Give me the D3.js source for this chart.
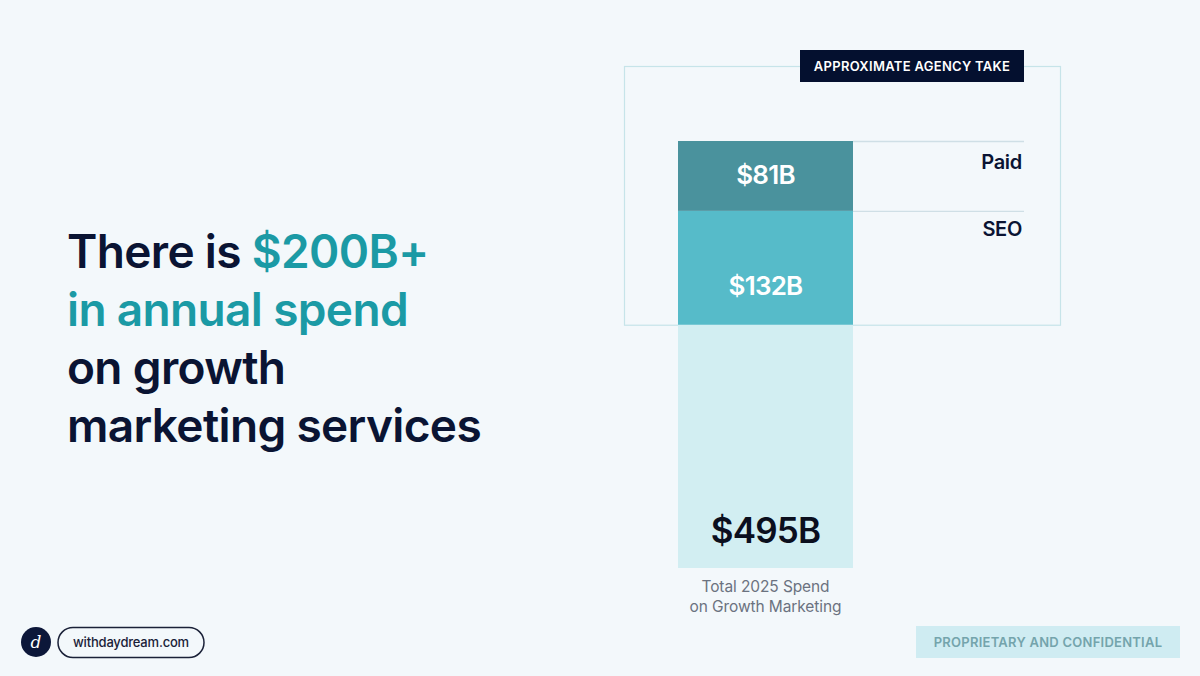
<!DOCTYPE html>
<html>
<head>
<meta charset="utf-8">
<script src="https://cdn.jsdelivr.net/npm/d3@7"></script>
<style>
  html, body { margin: 0; padding: 0; background: #f3f8fb; }
  svg { display: block; font-family: Inter, "Noto Sans", sans-serif; }
</style>
</head>
<body>
<svg id="chart" width="1200" height="676"></svg>
<script>
// ---- Data ----
const segments = ["Other", "SEO", "Paid"];          // stacked bottom -> top
const segmentValues = [282, 132, 81];               // $B
const segmentLabels = ["$495B", "$132B", "$81B"];
const sideLabels = ["Paid", "SEO"];
const totalValue = 495;
const headlineLines = [
  [{t: "There is ", hi: false}, {t: "$200B+", hi: true}],
  [{t: "in annual spend", hi: true}],
  [{t: "on growth", hi: false}],
  [{t: "marketing services", hi: false}]
];
const boxTitle = "APPROXIMATE AGENCY TAKE";
const captionLines = ["Total 2025 Spend", "on Growth Marketing"];

// ---- Setup ----
const svg = d3.select("#chart");
const navy = "#0a1433", teal = "#1b9aa5";
const colors = {Other: "#d2eef2", SEO: "#56bbc9", Paid: "#4a929d"};

svg.append("rect").attr("width", 1200).attr("height", 676).attr("fill", "#f3f8fb");

// Headline
const hl = svg.append("text").attr("font-size", 46).attr("font-weight", 600)
  .attr("letter-spacing", -0.65);
headlineLines.forEach((line, i) => {
  line.forEach((p, j) => {
    const ts = hl.append("tspan").text(p.t).attr("fill", p.hi ? teal : navy);
    if (j === 0) ts.attr("x", 67).attr("y", 268 + i * 58);
  });
});

// Scales
const y = d3.scaleLinear().domain([0, totalValue]).range([568, 141]);
const x = d3.scaleBand().domain(["Total"]).range([678, 853]).padding(0);

// Stack
const stackInput = [Object.fromEntries(segments.map((s, i) => [s, segmentValues[i]]))];
const series = d3.stack().keys(segments)(stackInput);

// Agency box outline
const seoTop = y(segmentValues[0]);
svg.append("rect").attr("x", 624.5).attr("y", 66.5).attr("width", 436).attr("height", seoTop - 66)
  .attr("fill", "none").attr("stroke", "#c6e4e9").attr("stroke-width", 1.2);

// Bars
svg.append("g").selectAll("rect").data(series).join("rect")
  .attr("x", x("Total")).attr("width", x.bandwidth())
  .attr("y", d => y(d[0][1])).attr("height", d => y(d[0][0]) - y(d[0][1]))
  .attr("fill", d => colors[d.key]);

// Divider lines to the right of the bar (at top of Paid and top of SEO)
const lineYs = [y(series[2][0][1]), y(series[1][0][1])];
svg.append("g").selectAll("line").data(lineYs).join("line")
  .attr("x1", 853).attr("x2", 1024).attr("y1", d => d + 0.5).attr("y2", d => d + 0.5)
  .attr("stroke", "#cfdfe6").attr("stroke-width", 1.3);

// Side labels
svg.append("g").selectAll("text").data(sideLabels).join("text")
  .attr("x", 1022).attr("y", (d, i) => lineYs[i] + (i === 0 ? 28 : 25)).attr("text-anchor", "end")
  .attr("font-size", 20).attr("font-weight", 600).attr("fill", navy).attr("letter-spacing", -0.3)
  .text(d => d);

// Segment value labels
const cx = x("Total") + x.bandwidth() / 2;
// Paid
svg.append("text").attr("x", cx).attr("y", (y(series[2][0][0]) + y(series[2][0][1])) / 2 + 8)
  .attr("text-anchor", "middle").attr("font-size", 26).attr("font-weight", 600).attr("fill", "#ffffff")
  .attr("letter-spacing", -0.8).text(segmentLabels[2]);
// SEO
svg.append("text").attr("x", cx).attr("y", (y(series[1][0][0]) + y(series[1][0][1])) / 2 + 27)
  .attr("text-anchor", "middle").attr("font-size", 26).attr("font-weight", 600).attr("fill", "#ffffff")
  .attr("letter-spacing", -0.8).text(segmentLabels[1]);
// Total
svg.append("text").attr("x", cx).attr("y", y(0) - 25)
  .attr("text-anchor", "middle").attr("font-size", 35).attr("font-weight", 600).attr("fill", "#0b0f1e")
  .attr("letter-spacing", -0.8).text(segmentLabels[0]);

// Caption
svg.append("g").selectAll("text").data(captionLines).join("text")
  .attr("x", cx).attr("y", (d, i) => 592 + i * 20).attr("text-anchor", "middle")
  .attr("font-size", 15.5).attr("fill", "#6b7280").attr("letter-spacing", -0.1).text(d => d);

// Box title label
svg.append("rect").attr("x", 800).attr("y", 50).attr("width", 224).attr("height", 32).attr("fill", "#04102f");
svg.append("text").attr("x", 912).attr("y", 71).attr("text-anchor", "middle")
  .attr("font-size", 13).attr("font-weight", 600).attr("fill", "#ffffff").attr("letter-spacing", 0.3)
  .text(boxTitle);

// Footer logo
svg.append("circle").attr("cx", 36).attr("cy", 642).attr("r", 15).attr("fill", "#0c1739");
svg.append("text").attr("x", 36).attr("y", 648).attr("text-anchor", "middle")
  .attr("font-size", 17).attr("font-style", "italic").attr("font-family", "DejaVu Serif, serif")
  .attr("fill", "#ffffff").text("d");
svg.append("rect").attr("x", 58).attr("y", 627.5).attr("width", 146).attr("height", 30).attr("rx", 15)
  .attr("fill", "none").attr("stroke", "#1a2138").attr("stroke-width", 1.5);
svg.append("text").attr("x", 131).attr("y", 647).attr("text-anchor", "middle")
  .attr("font-size", 13).attr("font-weight", 500).attr("fill", "#1a2138").attr("letter-spacing", -0.2)
  .text("withdaydream.com");

// Confidential tag
svg.append("rect").attr("x", 916).attr("y", 626).attr("width", 264).attr("height", 32).attr("fill", "#cfecf2");
svg.append("text").attr("x", 1048).attr("y", 647).attr("text-anchor", "middle")
  .attr("font-size", 13).attr("font-weight", 600).attr("fill", "#74a4ac").attr("letter-spacing", 0.25)
  .text("PROPRIETARY AND CONFIDENTIAL");
</script>
</body>
</html>
